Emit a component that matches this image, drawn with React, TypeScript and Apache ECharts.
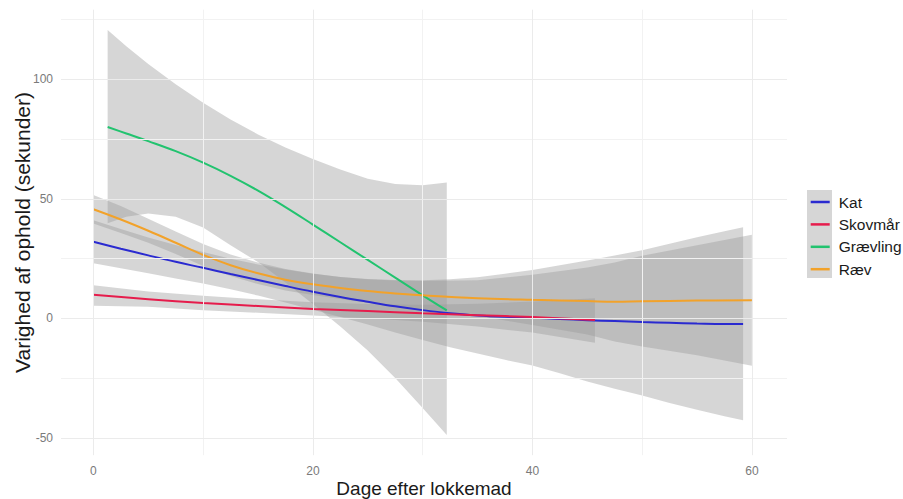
import React, { useEffect, useRef } from 'react';
import * as echarts from 'echarts';

// Axis ticks
const xTicks = [0, 20, 40, 60];
const xMinorTicks = [10, 30, 50];
const yTicks = [-50, 0, 50, 100];
const yMinorTicks = [-25, 25, 75, 125];

const speciesNames = ['Kat', 'Skovmår', 'Grævling', 'Ræv'];
const speciesColors = ['#2a2ad0', '#e61c4c', '#22c36f', '#f2a22a'];

// Kat
const katX = [0, 2.5, 5, 7.5, 10, 12.5, 15, 17.5, 20, 22.5, 25, 27.5, 30, 32.5, 35, 37.5, 40, 42.5, 45, 47.5, 50, 52.5, 55, 57.5, 59.2];
const katY = [32, 29.1, 26.3, 23.6, 21.1, 18.5, 16, 13.5, 11.1, 8.9, 6.9, 5, 3.4, 2.1, 1.2, 0.6, 0.2, -0.3, -0.8, -1.2, -1.6, -1.9, -2.2, -2.4, -2.4];
const katHi = [41, 37.3, 33.8, 30.6, 27.7, 24.9, 22.5, 20.4, 18.6, 17.3, 16.4, 16, 15.9, 16.3, 17.2, 18.6, 20.2, 22.2, 24.2, 26.3, 28.5, 31.2, 33.9, 36.4, 38.1];
const katLo = [23, 20.9, 18.8, 16.6, 14.5, 12.1, 9.5, 6.6, 3.6, 0.5, -2.6, -6, -9.1, -12.1, -14.8, -17.4, -19.8, -23, -26.5, -29.5, -32.3, -35.5, -38.3, -41, -42.7];

// Skovmår
const skovX = [0, 5, 10, 15, 20, 25, 30, 35, 40, 45.7];
const skovY = [9.8, 8.0, 6.4, 5.1, 3.9, 3.0, 2.1, 1.3, 0.5, -0.7];
const skovHi = [13.8, 11.2, 9.4, 7.9, 6.7, 6.0, 5.7, 6.1, 7.0, 8.4];
const skovLo = [5.2, 4.8, 3.4, 2.3, 1.1, 0.0, -1.5, -3.5, -6.0, -10.2];

// Grævling
const graevX = [1.3, 3, 5, 7.5, 10, 12.5, 15, 17.5, 20, 22.5, 25, 27.5, 30, 32.2];
const graevY = [80, 77.3, 74.1, 69.9, 65.1, 59.6, 53.4, 46.5, 39.2, 31.8, 24.4, 17.0, 9.6, 3.3];
const graevHi = [120.6, 113.8, 106.4, 97.9, 90.2, 83.2, 76.9, 71.4, 66.6, 62.2, 58.4, 56.2, 55.7, 56.8];
const graevLo = [39.7, 42.5, 43.8, 42.5, 38, 30.5, 23.5, 15, 6, -3.5, -13.5, -25, -37.5, -48.8];

// Ræv
const raevX = [0, 2.5, 5, 7.5, 10, 12.5, 15, 17.5, 20, 22.5, 25, 27.5, 30, 35, 40, 45, 47.5, 50, 55, 60];
const raevY = [45.6, 41.3, 36.6, 31.6, 26.5, 22.2, 18.8, 16.1, 14.2, 12.7, 11.4, 10.4, 9.6, 8.4, 7.7, 7.2, 6.9, 7.1, 7.4, 7.5];
const raevHi = [51.6, 47, 41.6, 36.3, 31.1, 26.7, 23.3, 20.6, 18.7, 17.3, 16.3, 15.8, 15.6, 15.9, 18.2, 21.2, 23.3, 26.2, 30.5, 34.9];
const raevLo = [39.6, 35.7, 31.6, 26.9, 21.9, 17.7, 14.3, 11.6, 9.7, 8.1, 6.5, 5.0, 3.6, 0.9, -2.8, -6.8, -9.7, -11.8, -15.5, -19.9];

const FONT = '"Liberation Sans", Arial, sans-serif';
const BAND_FILL = 'rgba(153,153,153,0.4)';

function bandSeries(name: string, xs: number[], lo: number[], hi: number[]) {
  return {
    type: 'custom',
    name: name + ' se',
    silent: true,
    clip: true,
    data: xs.map((x, i) => [x, lo[i], hi[i]]),
    encode: { x: 0, y: [1, 2] },
    renderItem: (params: any, api: any) => {
      if (params.dataIndex !== 0) return null;
      const pts: number[][] = [];
      for (let i = 0; i < xs.length; i++) pts.push(api.coord([xs[i], hi[i]]));
      for (let i = xs.length - 1; i >= 0; i--) pts.push(api.coord([xs[i], lo[i]]));
      return { type: 'polygon', shape: { points: pts }, style: { fill: BAND_FILL } };
    },
  };
}

function lineSeries(name: string, color: string, xs: number[], ys: number[]) {
  return {
    type: 'line',
    name,
    data: xs.map((x, i) => [x, ys[i]]),
    showSymbol: false,
    symbol: 'none',
    smooth: 0.4,
    silent: true,
    lineStyle: { color, width: 2 },
    itemStyle: { color },
  };
}

export default function App() {
  const ref = useRef<HTMLDivElement>(null);
  useEffect(() => {
    if (!ref.current) return;
    const chart = echarts.init(ref.current, undefined, { renderer: 'svg' });
    const major = { color: '#ebebeb', width: 1, type: 'solid' };
    const minor = { color: '#f2f2f2', width: 1, type: 'solid' };
    const gridLines = [
      ...xMinorTicks.map((v) => ({ xAxis: v, lineStyle: minor })),
      ...yMinorTicks.map((v) => ({ yAxis: v, lineStyle: minor })),
      ...xTicks.map((v) => ({ xAxis: v, lineStyle: major })),
      ...yTicks.map((v) => ({ yAxis: v, lineStyle: major })),
    ];
    const series: any[] = [
      {
        type: 'line',
        name: 'grid',
        data: [],
        silent: true,
        markLine: {
          silent: true,
          symbol: ['none', 'none'],
          label: { show: false },
          animation: false,
          data: gridLines,
        },
      },
      bandSeries('Kat', katX, katLo, katHi),
      lineSeries('Kat', speciesColors[0], katX, katY),
      bandSeries('Skovmår', skovX, skovLo, skovHi),
      lineSeries('Skovmår', speciesColors[1], skovX, skovY),
      bandSeries('Grævling', graevX, graevLo, graevHi),
      lineSeries('Grævling', speciesColors[2], graevX, graevY),
      bandSeries('Ræv', raevX, raevLo, raevHi),
      lineSeries('Ræv', speciesColors[3], raevX, raevY),
    ];
    chart.setOption({
      animation: false,
      backgroundColor: '#ffffff',
      textStyle: { fontFamily: FONT },
      grid: { left: 61, right: 116, top: 9.7, bottom: 43.8, containLabel: false, outerBoundsMode: 'none' },
      xAxis: {
        type: 'value',
        min: -2.95,
        max: 63.2,
        axisLine: { show: false },
        axisTick: { show: false },
        splitLine: { show: false },
        axisLabel: { customValues: xTicks, color: '#7a7a7a', fontSize: 12, margin: 10, fontFamily: FONT },
        name: 'Dage efter lokkemad',
        nameLocation: 'middle',
        nameGap: 24,
        nameMoveOverlap: false,
        nameTextStyle: { fontSize: 19, color: '#1a1a1a', fontFamily: FONT },
      },
      yAxis: {
        type: 'value',
        min: -57.3,
        max: 129.1,
        axisLine: { show: false },
        axisTick: { show: false },
        splitLine: { show: false },
        axisLabel: { customValues: yTicks, color: '#7a7a7a', fontSize: 12, margin: 8, fontFamily: FONT },
        name: 'Varighed af ophold (sekunder)',
        nameLocation: 'middle',
        nameGap: 28.5,
        nameMoveOverlap: false,
        nameTextStyle: { fontSize: 21, color: '#1a1a1a', fontFamily: FONT },
      },
      legend: {
        data: speciesNames,
        orient: 'vertical',
        left: 810.7,
        top: 194,
        padding: 0,
        icon: 'rect',
        itemWidth: 19,
        itemHeight: 2.5,
        itemGap: 6.4,
        selectedMode: false,
        textStyle: { fontSize: 15.5, color: '#1a1a1a', fontFamily: FONT, lineHeight: 16, padding: [0, 0, 0, 4] },
      },
      graphic: [
        {
          type: 'rect',
          left: 807,
          top: 190,
          shape: { width: 25, height: 88 },
          style: { fill: '#d6d6d6' },
          silent: true,
        },
      ],
      series,
    });
    return () => chart.dispose();
  }, []);
  return <div ref={ref} style={{ position: 'fixed', left: 0, top: 0, width: 903, height: 499 }} />;
}
